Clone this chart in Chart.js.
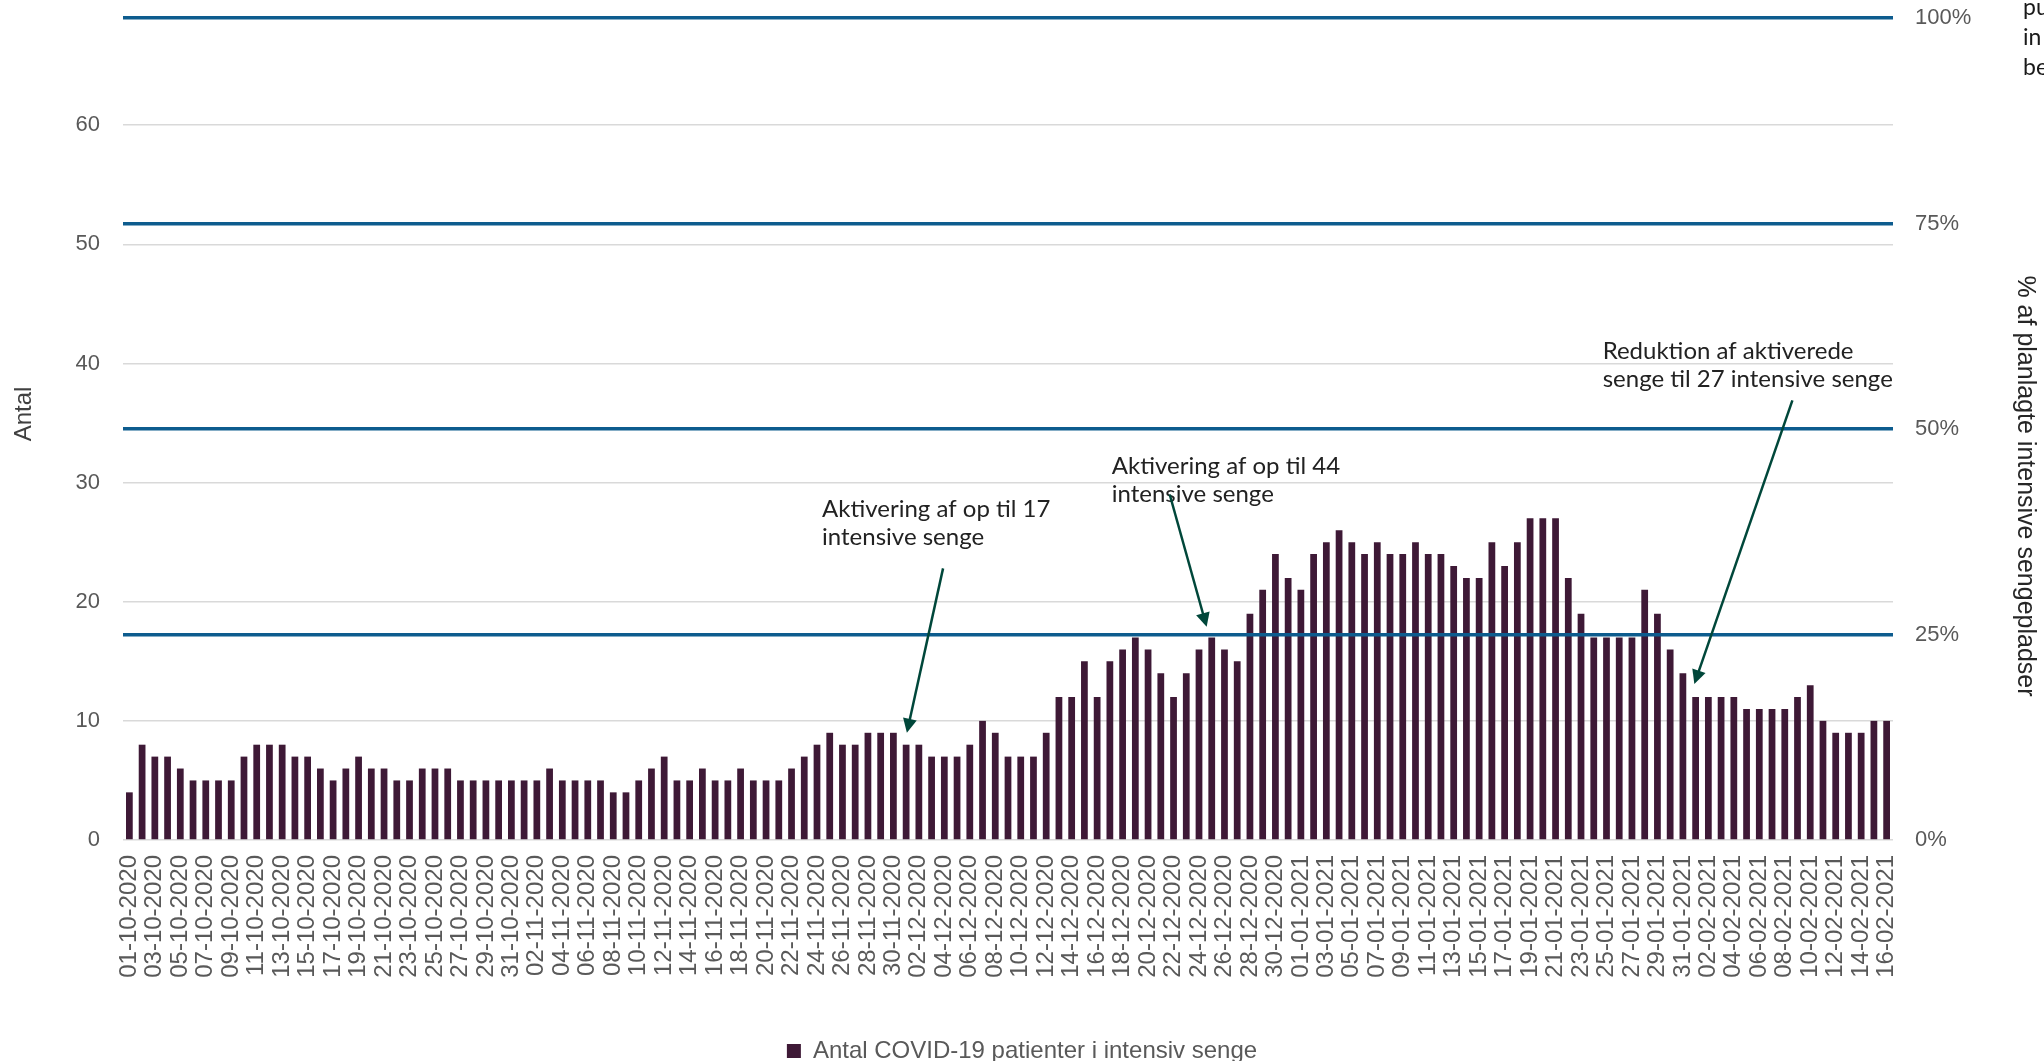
<!DOCTYPE html>
<html lang="da">
<head>
<meta charset="utf-8">
<title>Antal COVID-19 patienter i intensiv senge</title>
<script src="https://cdn.jsdelivr.net/npm/chart.js@4.4.1/dist/chart.umd.min.js"></script>
<style>
  html, body { margin: 0; padding: 0; background: #fff; overflow: hidden; }
  .wrap { position: relative; width: 2044px; height: 1061px; }
  .side-note {
    position: absolute; left: 2023px; top: -9px;
    font: 23px/30px Lato, "Liberation Sans", sans-serif;
    color: #1a1a1a; white-space: nowrap;
  }
</style>
</head>
<body>
<div class="wrap">
  <canvas id="icu-chart"></canvas>
  <div class="side-note">pu<br>in<br>be</div>
</div>
<script>
// daily count of COVID-19 patients in intensive care, 01-10-2020 .. 16-02-2021
const firstDay = "2020-10-01";
const dayCount = 139;

const octValues = [4, 8, 7, 7, 6, 5, 5, 5, 5, 7, 8, 8, 8, 7, 7, 6, 5, 6, 7, 6, 6, 5, 5, 6, 6, 6, 5, 5, 5, 5, 5];
const novValues = [5, 5, 6, 5, 5, 5, 5, 4, 4, 5, 6, 7, 5, 5, 6, 5, 5, 6, 5, 5, 5, 6, 7, 8, 9, 8, 8, 9, 9, 9];
const decValues = [8, 8, 7, 7, 7, 8, 10, 9, 7, 7, 7, 9, 12, 12, 15, 12, 15, 16, 17, 16, 14, 12, 14, 16, 17, 16, 15, 19, 21, 24, 22];
const janValues = [21, 24, 25, 26, 25, 24, 25, 24, 24, 25, 24, 24, 23, 22, 22, 25, 23, 25, 27, 27, 27, 22, 19, 17, 17, 17, 17, 21, 19, 16, 14];
const febValues = [12, 12, 12, 12, 11, 11, 11, 11, 12, 13, 10, 9, 9, 9, 10, 10];

const seriesName = "Antal COVID-19 patienter i intensiv senge";
const leftTitle = "Antal";
const rightTitle = "% af planlagte intensive sengepladser";

// left axis: planned beds (100%), right axis: share of planned beds
const plannedBeds = 69;
const leftTicks = [0, 10, 20, 30, 40, 50, 60];
const shareTicks = [0, 0.25, 0.5, 0.75, 1];

const patients = [...octValues, ...novValues, ...decValues, ...janValues, ...febValues];

const dayLabels = [];
const d0 = new Date(firstDay + "T12:00:00Z");
for (let i = 0; i < dayCount; i++) {
  const d = new Date(d0.getTime() + i * 86400000);
  const dd = String(d.getUTCDate()).padStart(2, "0");
  const mm = String(d.getUTCMonth() + 1).padStart(2, "0");
  dayLabels.push(`${dd}-${mm}-${d.getUTCFullYear()}`);
}

// notes: text anchor, arrow start and end in (day index, patients)
const notes = [
  { lines: ["Aktivering af op til 17", "intensive senge"], at: [54.4, 27.1], from: [63.9, 22.8], to: [61.06, 9.0] },
  { lines: ["Aktivering af op til 44", "intensive senge"], at: [77.15, 30.7], from: [81.7, 29.0], to: [84.6, 17.9] },
  { lines: ["Reduktion af aktiverede", "senge til 27 intensive senge"], at: [115.7, 40.4], from: [130.6, 36.9], to: [122.9, 13.1] },
];

const barColor = "#3e1936";
const blueLine = "#0d5c8e";
const arrowColor = "#00473a";
const tickColor = "#595959";
const textFont = "'Liberation Sans', Arial, sans-serif";

Chart.defaults.font.family = textFont;

const notesPlugin = {
  id: "notes",
  afterDraw(chart) {
    const { ctx } = chart;
    const x = chart.scales.x;
    const y = chart.scales.y;
    ctx.save();
    ctx.font = "24px Lato, 'Noto Sans', sans-serif";
    ctx.textBaseline = "alphabetic";
    notes.forEach((n) => {
      const tx = x.getPixelForValue(n.at[0]);
      const ty = y.getPixelForValue(n.at[1]);
      ctx.fillStyle = "#222";
      n.lines.forEach((line, i) => ctx.fillText(line, tx, ty + i * 28));

      const x1 = x.getPixelForValue(n.from[0]);
      const y1 = y.getPixelForValue(n.from[1]);
      const x2 = x.getPixelForValue(n.to[0]);
      const y2 = y.getPixelForValue(n.to[1]);
      const ang = Math.atan2(y2 - y1, x2 - x1);
      const head = 14;
      ctx.strokeStyle = arrowColor;
      ctx.fillStyle = arrowColor;
      ctx.lineWidth = 2.5;
      ctx.beginPath();
      ctx.moveTo(x1, y1);
      ctx.lineTo(x2 - Math.cos(ang) * head * 0.8, y2 - Math.sin(ang) * head * 0.8);
      ctx.stroke();
      ctx.beginPath();
      ctx.moveTo(x2, y2);
      ctx.lineTo(x2 - head * Math.cos(ang) + 7 * Math.sin(ang), y2 - head * Math.sin(ang) - 7 * Math.cos(ang));
      ctx.lineTo(x2 - head * Math.cos(ang) - 7 * Math.sin(ang), y2 - head * Math.sin(ang) + 7 * Math.cos(ang));
      ctx.closePath();
      ctx.fill();
    });
    ctx.restore();
  },
};

const axisTitlesPlugin = {
  id: "axisTitles",
  afterDraw(chart) {
    const { ctx, chartArea } = chart;
    const mid = (chartArea.top + chartArea.bottom) / 2;
    ctx.save();
    ctx.textAlign = "center";
    ctx.textBaseline = "middle";
    ctx.fillStyle = "#404040";
    ctx.font = "24px " + textFont;
    ctx.translate(24, mid - 15);
    ctx.rotate(-Math.PI / 2);
    ctx.fillText(leftTitle, 0, 0);
    ctx.restore();

    ctx.save();
    ctx.textAlign = "center";
    ctx.textBaseline = "middle";
    ctx.fillStyle = "#262626";
    ctx.font = "25px " + textFont;
    ctx.translate(chart.width - 19, mid + 57);
    ctx.rotate(Math.PI / 2);
    ctx.fillText(rightTitle, 0, 0);
    ctx.restore();
  },
};

// keep the tick padding horizontal only, so the plot reaches the top
const fixVertical = (width) => (s) => {
  s.width = width;
  s.paddingTop = 13;
  s.paddingBottom = 13;
};

new Chart(document.getElementById("icu-chart"), {
  type: "bar",
  data: {
    labels: dayLabels,
    datasets: [
      {
        label: seriesName,
        data: patients,
        backgroundColor: barColor,
        borderWidth: 0,
        categoryPercentage: 1,
        barPercentage: 0.53,
        yAxisID: "y",
      },
    ],
  },
  options: {
    responsive: true,
    maintainAspectRatio: false,
    animation: false,
    layout: { padding: { top: 18, left: 0, right: 0, bottom: -12 } },
    plugins: {
      legend: {
        position: "bottom",
        labels: {
          color: tickColor,
          font: { size: 24 },
          boxWidth: 14,
          boxHeight: 14,
          padding: 2,
        },
      },
      tooltip: { enabled: false },
    },
    scales: {
      x: {
        grid: { display: false, drawTicks: false },
        border: { display: false },
        ticks: {
          autoSkip: false,
          minRotation: 90,
          maxRotation: 90,
          padding: 15,
          color: tickColor,
          font: { size: 24 },
          callback: (v, i) => (i % 2 === 0 ? dayLabels[i] : ""),
        },
        afterFit: (s) => { s.height = 197; },
      },
      y: {
        position: "left",
        min: 0,
        max: plannedBeds,
        afterBuildTicks: (s) => { s.ticks = leftTicks.map((v) => ({ value: v })); },
        ticks: { padding: 23, color: tickColor, font: { size: 22 } },
        grid: { color: "#d9d9d9", lineWidth: 1.5, drawTicks: false },
        border: { display: false },
        afterFit: fixVertical(123),
      },
      y1: {
        position: "right",
        min: 0,
        max: 1,
        afterBuildTicks: (s) => { s.ticks = shareTicks.map((v) => ({ value: v })); },
        ticks: {
          padding: 22,
          color: tickColor,
          font: { size: 22 },
          callback: (v) => Math.round(v * 100) + "%",
        },
        grid: {
          z: 1,
          drawTicks: false,
          lineWidth: 3.5,
          color: (c) => (c.tick && c.tick.value === 0 ? "rgba(0,0,0,0)" : blueLine),
        },
        border: { display: false },
        afterFit: fixVertical(151),
      },
    },
  },
  plugins: [notesPlugin, axisTitlesPlugin],
});
</script>
</body>
</html>
